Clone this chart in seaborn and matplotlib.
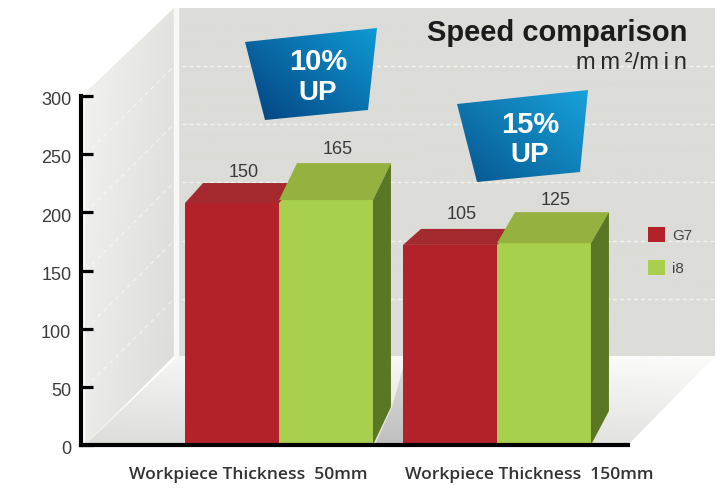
import numpy as np
import pandas as pd
import matplotlib
matplotlib.use("Agg")
import matplotlib.pyplot as plt
from matplotlib.patches import Polygon
from matplotlib.transforms import ScaledTranslation
import seaborn as sns

# ---- data ----
thickness = ["Workpiece Thickness  50mm", "Workpiece Thickness  150mm"]
models = ["G7", "i8"]
g7_drawn = [208, 172]
i8_drawn = [210.5, 173.5]
g7_labels = ["150", "105"]
i8_labels = ["165", "125"]
y_ticks = [0, 50, 100, 150, 200, 250, 300]
title = "Speed comparison"
unit = "m\u2009m\u2009²/m\u2009i\u2009n"
badges = [("10%", "UP"), ("15%", "UP")]

# ---- style ----
W, H = 720, 490
RED, GREEN = "#b3222b", "#a9cf4f"
TOP = {"G7": "#a42a2f", "i8": "#95b240"}
SIDE = "#5a7726"
WALL = "#dcdcd8"
SANS = "Liberation Sans"
X0, X1, Y0, Y1 = 81, 628, 445, 96
DX = 18
top_depth = {"G7": [20, 16], "i8": [37, 31]}
foot_depth = [38, 34]
label_gap = {"G7": [11, 14], "i8": [14, 12]}

sns.set_theme(style="white")
plt.rcParams["font.family"] = [SANS, "DejaVu Sans"]
fig = plt.figure(figsize=(W / 100, H / 100), dpi=100, facecolor="white")

# ---- pseudo-3D room, in pixel coordinates ----
bg = fig.add_axes([0, 0, 1, 1], zorder=0)
bg.set_axis_off()


def gradient(poly, c0, c1, angle=90.0, z=1):
    xs, ys = zip(*poly)
    ext = (min(xs), max(xs), max(ys), min(ys))
    u, v = np.meshgrid(np.linspace(0, 1, 120), np.linspace(0, 1, 120))
    a = np.deg2rad(angle)
    t = u * np.cos(a) + v * np.sin(a)
    t = (t - t.min()) / (t.max() - t.min())
    c0, c1 = map(lambda c: np.array(matplotlib.colors.to_rgb(c)), (c0, c1))
    img = c0[None, None, :] * (1 - t[..., None]) + c1[None, None, :] * t[..., None]
    im = bg.imshow(img, extent=ext, aspect="auto", origin="upper", zorder=z, interpolation="bilinear")
    clip = Polygon(poly, closed=True, transform=bg.transData, facecolor="none", edgecolor="none")
    bg.add_patch(clip)
    im.set_clip_path(clip)


gradient([(178, 8), (715, 8), (715, 356), (178, 356)], WALL, WALL)
gradient([(85, 93), (174, 8), (174, 356), (85, 445)], "#f2f2f1", "#dbdbd7", 25)
gradient([(85, 445), (178, 356), (715, 356), (628, 445)], "#fcfcfb", "#dcdcd9", 105)
bg.fill([174, 178, 178, 174], [8, 8, 356, 356], color="#f8f8f6", zorder=2)
gradient([(375, 445), (403, 445), (403, 368), (392, 407)], "#dadada", "#bfbfbf", 90, z=2)

scale = (Y0 - Y1) / 300
for v in y_ticks[1:-1]:
    yv = Y0 - v * scale
    bg.plot([86, 174], [yv, yv - 88], color="white", lw=1.0, ls=(0, (3, 3)), alpha=0.5, zorder=3)
    bg.plot([182, 715], [yv - 88, yv - 88], color="white", lw=1.0, ls=(0, (3, 2)), alpha=0.65, zorder=3)

# badges
badge_polys = [
    [(245, 42), (377, 28), (368, 110), (265, 120)],
    [(457, 104), (588, 90), (580, 172), (477, 182)],
]
badge_colors = [("#0f9ad4", "#04417f"), ("#18a3da", "#07558f")]
badge_text_x = [318, 530]
badge_text_y = [(62, 93), (125, 155)]
for poly, cols, bx, by, (pct, up) in zip(badge_polys, badge_colors, badge_text_x, badge_text_y, badges):
    gradient(poly, cols[0], cols[1], 140, z=4)
    bg.text(bx, by[0], pct, color="white", fontweight="bold", fontsize=21, ha="center", va="center", zorder=5)
    bg.text(bx, by[1], up, color="white", fontweight="bold", fontsize=20, ha="center", va="center", zorder=5)

bg.set_xlim(0, W)
bg.set_ylim(H, 0)

# ---- main chart ----
ax = fig.add_axes([X0 / W, (H - Y0) / H, (X1 - X0) / W, (Y0 - Y1) / H], zorder=1)
ax.patch.set_visible(False)

df = pd.DataFrame({
    "thickness": thickness * 2,
    "model": ["G7"] * 2 + ["i8"] * 2,
    "value": g7_drawn + i8_drawn,
})
sns.barplot(data=df, x="thickness", y="value", hue="model", hue_order=models,
            palette={"G7": RED, "i8": GREEN}, width=0.862, gap=0, saturation=1,
            linewidth=0, ax=ax)

px_per_x = 218.0
ax.set_xlim((X0 - 279) / px_per_x, (X1 - 279) / px_per_x)
ax.set_ylim(0, 300)
sx, sy = 1 / px_per_x, 1 / scale

value_labels = {"G7": g7_labels, "i8": i8_labels}
containers = dict(zip(models, ax.containers))
for m in models:
    for i, bar in enumerate(containers[m]):
        x0, w, h = bar.get_x(), bar.get_width(), bar.get_height()
        d = top_depth[m][i]
        ax.add_patch(Polygon(
            [(x0, h), (x0 + DX * sx, h + d * sy), (x0 + w + DX * sx, h + d * sy), (x0 + w, h)],
            closed=True, facecolor=TOP[m], edgecolor="none", zorder=1.2 if m == "G7" else 1.4))
        if m == "i8":
            ax.add_patch(Polygon(
                [(x0 + w, 0), (x0 + w + DX * sx, foot_depth[i] * sy),
                 (x0 + w + DX * sx, h + d * sy), (x0 + w, h)],
                closed=True, facecolor=SIDE, edgecolor="none", zorder=1.5))
        ax.annotate(value_labels[m][i], (x0 + w / 2, h),
                    xytext=((DX * 0.65) * 0.72, (d + label_gap[m][i]) * 0.72),
                    textcoords="offset points", ha="center", va="center",
                    fontsize=13, color="#3a3a3a", zorder=6, annotation_clip=False)

# axes styling
sns.despine(ax=ax)
ax.set_xlabel("")
ax.set_ylabel("")
for s in ("left", "bottom"):
    ax.spines[s].set_linewidth(3)
    ax.spines[s].set_color("black")
    ax.spines[s].set_zorder(5)
ax.set_yticks(y_ticks)
ax.tick_params(axis="y", direction="in", length=8.6, width=2.3, color="black", left=True,
               pad=7, labelsize=13, labelcolor="#3c3c3c")
for lab in ax.get_yticklabels():
    lab.set_transform(lab.get_transform() + ScaledTranslation(0, -2 / 72, fig.dpi_scale_trans))
ax.set_xticks([(248.5 - 279) / px_per_x, (529 - 279) / px_per_x], labels=thickness)
ax.tick_params(axis="x", length=0, pad=16, labelsize=12.6, labelcolor="#333333")
for lab in ax.get_xticklabels():
    lab.set_fontfamily("Open Sans")
    lab.set_fontweight("semibold")

# legend
leg = ax.legend(title=None, frameon=False, fontsize=11, loc="center left",
                bbox_to_anchor=((648 - X0) / (X1 - X0), (Y0 - 251.5) / (Y0 - Y1)),
                handlelength=1.1, handleheight=1.1, handletextpad=0.5,
                labelspacing=1.12, borderpad=0, borderaxespad=0, labelcolor="#444444")

# title
fig.suptitle(title, x=687 / W, y=1 - 33 / H, ha="right", va="center",
             fontsize=21, fontweight="bold", color="#1c1c1c", family=SANS)
fig.text(687 / W, 1 - 63 / H, unit, ha="right", va="center", fontsize=17, color="#2a2a2a")

fig.savefig("out.png", dpi=100, facecolor="white")
